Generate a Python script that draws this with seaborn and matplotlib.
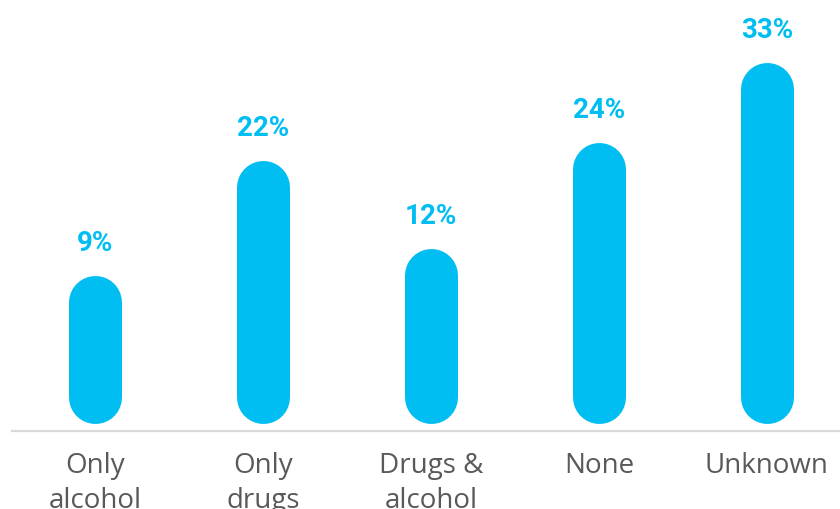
import matplotlib
import seaborn as sns

matplotlib.use("Agg")
import matplotlib.pyplot as plt

CATEGORIES = ["Only\nalcohol", "Only\ndrugs", "Drugs &\nalcohol", "None", "Unknown"]
VALUES = [9, 22, 12, 24, 33]
LABELS = ["9%", "22%", "12%", "24%", "33%"]

BAR_COLOR = "#00BEF2"
TEXT_COLOR = "#58595B"
BASE = -7.8  # pills start a bit below zero, as in the original design


def main() -> None:
    sns.set_theme(style="white")
    plt.rcParams["font.family"] = ["Open Sans", "DejaVu Sans"]

    fig = plt.figure(figsize=(8.4, 5.09), dpi=100)
    ax = fig.add_axes([12 / 840, 78 / 509, 828 / 840, 431 / 509])

    sns.barplot(x=CATEGORIES, y=VALUES, color=BAR_COLOR, width=0.315,
                saturation=1, ax=ax)

    ax.set_xlim(-0.494, 4.435)
    ax.set_ylim(-8.62, 40.08)

    # swap the square bars for pills: thick line with round caps
    bar_px = 53.0
    radius = (bar_px / 2) / 8.85  # in y data units
    for patch in list(ax.patches):
        xc = patch.get_x() + patch.get_width() / 2
        top = patch.get_y() + patch.get_height()
        patch.remove()
        ax.plot([xc, xc], [BASE + radius, top - radius], color=BAR_COLOR,
                lw=bar_px * 72 / 100, solid_capstyle="round")

    for i, (v, lab) in enumerate(zip(VALUES, LABELS)):
        ax.text(i, v + 3.6, lab, ha="center", va="center", color=BAR_COLOR,
                fontsize=20, fontweight="bold", family=["Roboto", "DejaVu Sans"])

    for side in ["top", "left", "right"]:
        ax.spines[side].set_visible(False)
    ax.spines["bottom"].set_color("#D9D9D9")
    ax.spines["bottom"].set_linewidth(1.6)

    ax.set_yticks([])
    ax.tick_params(axis="x", length=0, pad=15, labelsize=20, labelcolor=TEXT_COLOR)
    for t in ax.get_xticklabels():
        t.set_linespacing(1.35)
    ax.set_xlabel("")
    ax.set_ylabel("")

    fig.savefig("out.png", dpi=100)
    plt.close(fig)


if __name__ == "__main__":
    main()
